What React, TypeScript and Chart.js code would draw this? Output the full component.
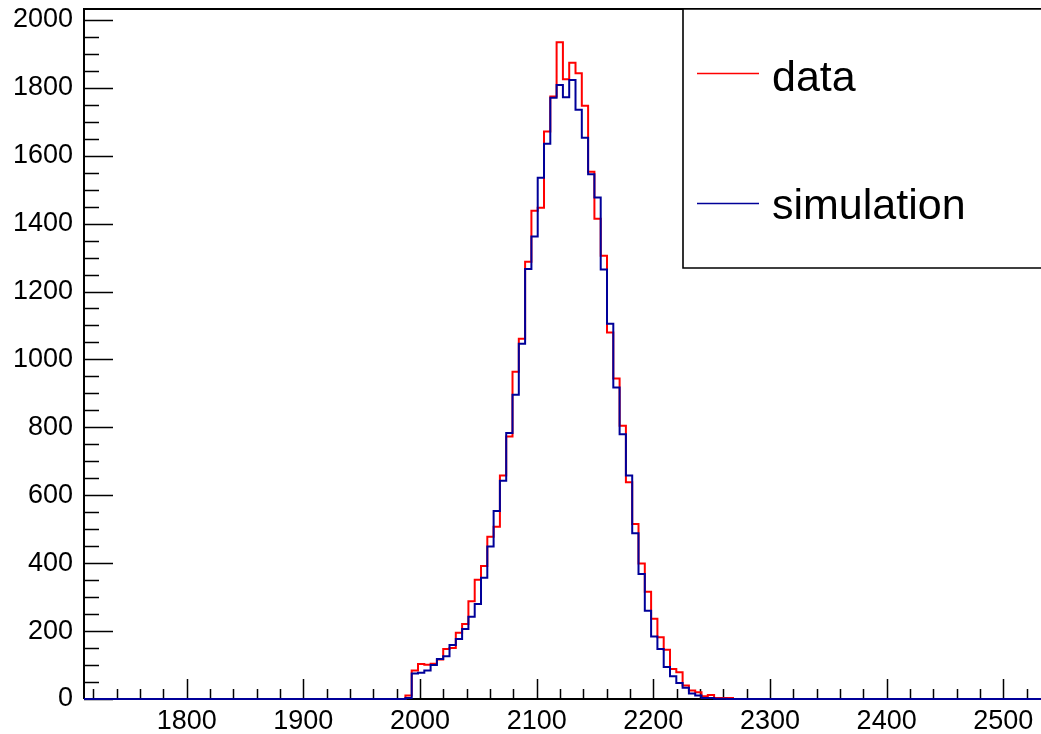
import React, { useEffect, useRef } from "react";
import { Chart, registerables } from "chart.js";

Chart.register(...registerables);

// ---- data ----
const BIN_START = 1987.5;
const BIN_WIDTH = 5.4;

const dataCounts = [
  10, 84, 103, 101, 104, 116, 147, 150, 195, 221, 288, 351, 392, 478, 507, 658,
  773, 964, 1061, 1288, 1438, 1447, 1671, 1774, 1934, 1825, 1874, 1843, 1747,
  1553, 1414, 1305, 1079, 944, 805, 638, 515, 399, 316, 236, 182, 145, 88, 79,
  40, 25, 20, 8, 12, 3, 3, 3,
];

const simCounts = [
  3, 75, 77, 84, 100, 118, 126, 159, 177, 206, 242, 280, 357, 449, 554, 643,
  783, 896, 1046, 1266, 1362, 1535, 1635, 1771, 1808, 1772, 1823, 1735, 1653,
  1545, 1477, 1265, 1105, 917, 780, 658, 488, 368, 260, 184, 147, 94, 67, 47,
  33, 16, 10, 3, 3, 1, 1, 0,
];

const seriesLabels = ["data", "simulation"];
const seriesColors = ["#ff0000", "#000099"];

const xTickValues = [1800, 1900, 2000, 2100, 2200, 2300, 2400, 2500];
const yTickValues = [0, 200, 400, 600, 800, 1000, 1200, 1400, 1600, 1800, 2000];

const X_MIN = 1712;
const X_MAX = 2532.3;
const Y_MIN = 0;
const Y_MAX = 2032;
const X_MINOR_STEP = 20;
const Y_MINOR_STEP = 50;

const FONT = "'Liberation Sans', Arial, Helvetica, sans-serif";

function histPoints(counts: number[]) {
  const pts: { x: number; y: number }[] = [{ x: X_MIN, y: 0 }];
  counts.forEach((c, i) => pts.push({ x: BIN_START + i * BIN_WIDTH, y: c }));
  pts.push({ x: BIN_START + counts.length * BIN_WIDTH, y: 0 });
  pts.push({ x: X_MAX, y: 0 });
  return pts;
}

const framePlugin = {
  id: "rootFrame",
  beforeDatasetsDraw(chart: any) {
    const { ctx, chartArea: a, scales } = chart;
    const xs = scales.x;
    const ys = scales.y;
    ctx.save();
    ctx.strokeStyle = "#000";
    ctx.lineWidth = 2;
    ctx.beginPath();
    ctx.moveTo(a.left, a.bottom);
    ctx.lineTo(a.left, a.top);
    ctx.lineTo(a.right + 2, a.top);
    ctx.moveTo(a.left, a.bottom);
    ctx.lineTo(a.right + 2, a.bottom);
    ctx.stroke();

    ctx.lineWidth = 1.5;
    ctx.beginPath();
    // x ticks (inside, upward)
    const xStart = Math.ceil(X_MIN / X_MINOR_STEP) * X_MINOR_STEP;
    for (let v = xStart; v <= X_MAX; v += X_MINOR_STEP) {
      const px = Math.round(xs.getPixelForValue(v)) + 0.5;
      const major = xTickValues.includes(v);
      const len = major ? 20 : 10;
      ctx.moveTo(px, a.bottom);
      ctx.lineTo(px, a.bottom - len);
    }
    // y ticks (inside, rightward)
    for (let v = Y_MIN; v <= Y_MAX; v += Y_MINOR_STEP) {
      const py = Math.round(ys.getPixelForValue(v)) + 0.5;
      const major = yTickValues.includes(v);
      const len = major ? 29 : 15;
      ctx.moveTo(a.left, py);
      ctx.lineTo(a.left + len, py);
    }
    ctx.stroke();
    ctx.restore();
  },
  afterDraw(chart: any) {
    const { ctx, chartArea: a } = chart;
    const boxLeft = 683;
    const boxTop = a.top;
    const boxBottom = 268;
    ctx.save();
    ctx.fillStyle = "#fff";
    ctx.fillRect(boxLeft, boxTop, chart.width - boxLeft + 5, boxBottom - boxTop);
    ctx.strokeStyle = "#000";
    ctx.lineWidth = 1.6;
    ctx.beginPath();
    ctx.moveTo(chart.width + 5, boxTop);
    ctx.lineTo(boxLeft, boxTop);
    ctx.lineTo(boxLeft, boxBottom);
    ctx.lineTo(chart.width + 5, boxBottom);
    ctx.stroke();

    const rows = [
      { lineY: 73.5, textY: 90.5 },
      { lineY: 203.5, textY: 219 },
    ];
    seriesLabels.forEach((label, i) => {
      ctx.strokeStyle = seriesColors[i];
      ctx.lineWidth = 1.4;
      ctx.beginPath();
      ctx.moveTo(697, rows[i].lineY);
      ctx.lineTo(759, rows[i].lineY);
      ctx.stroke();
      ctx.fillStyle = "#000";
      ctx.font = `43px ${FONT}`;
      ctx.textAlign = "left";
      ctx.textBaseline = "alphabetic";
      ctx.fillText(label, 772, rows[i].textY);
    });
    ctx.restore();
  },
};

export default function App() {
  const canvasRef = useRef<HTMLCanvasElement | null>(null);

  useEffect(() => {
    if (!canvasRef.current) return;
    const chart = new Chart(canvasRef.current, {
      type: "line",
      data: {
        datasets: [
          {
            label: seriesLabels[1],
            data: histPoints(simCounts),
            borderColor: seriesColors[1],
            borderWidth: 2,
            pointRadius: 0,
            stepped: "before",
            fill: false,
            clip: false,
            order: 0,
          },
          {
            label: seriesLabels[0],
            data: histPoints(dataCounts),
            borderColor: seriesColors[0],
            borderWidth: 2,
            pointRadius: 0,
            stepped: "before",
            fill: false,
            clip: false,
            order: 1,
          },
        ],
      },
      options: {
        animation: false,
        responsive: true,
        maintainAspectRatio: false,
        layout: { padding: { top: 9, left: 0, right: 0, bottom: 0 } },
        plugins: {
          legend: { display: false },
          tooltip: { enabled: false },
          title: { display: false },
        },
        scales: {
          x: {
            type: "linear",
            min: X_MIN,
            max: X_MAX,
            grid: { display: false, drawTicks: false },
            border: { display: false },
            afterBuildTicks: (scale: any) => {
              scale.ticks = xTickValues.map((v) => ({ value: v }));
            },
            afterFit: (scale: any) => {
              scale.height = 35;
              scale.paddingLeft = 0;
              scale.paddingRight = 0;
            },
            ticks: {
              autoSkip: false,
              maxRotation: 0,
              minRotation: 0,
              padding: 6,
              color: "#000",
              font: { family: FONT, size: 27 },
              callback: (v: any) => String(v),
            },
          },
          y: {
            type: "linear",
            min: Y_MIN,
            max: Y_MAX,
            grid: { display: false, drawTicks: false },
            border: { display: false },
            afterBuildTicks: (scale: any) => {
              scale.ticks = yTickValues.map((v) => ({ value: v }));
            },
            afterFit: (scale: any) => {
              scale.width = 84;
              scale.paddingTop = 0;
              scale.paddingBottom = 0;
            },
            ticks: {
              autoSkip: false,
              padding: 11,
              color: "#000",
              font: { family: FONT, size: 27 },
              callback: (v: any) => String(v),
            },
          },
        },
      },
      plugins: [framePlugin],
    } as any);
    return () => chart.destroy();
  }, []);

  return (
    <div
      style={{
        position: "fixed",
        left: 0,
        top: 0,
        width: 1041,
        height: 734,
        background: "#fff",
      }}
    >
      <canvas ref={canvasRef} />
    </div>
  );
}
